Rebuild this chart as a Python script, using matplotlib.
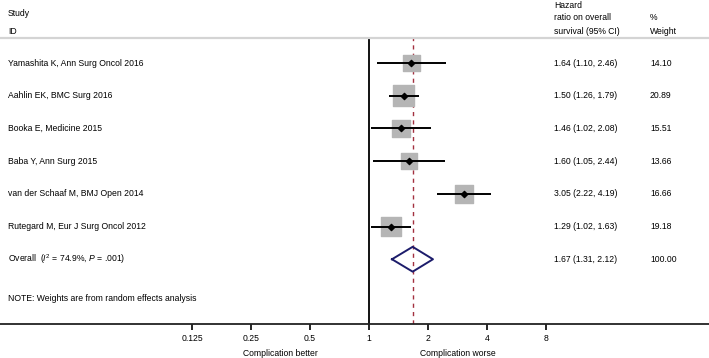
import matplotlib.pyplot as plt
from matplotlib import transforms

plt.rcParams['font.family'] = ['Liberation Sans', 'DejaVu Sans']
plt.rcParams['mathtext.fontset'] = 'custom'
plt.rcParams['mathtext.rm'] = 'Liberation Sans'
plt.rcParams['mathtext.it'] = 'Liberation Sans:italic'

# --- dados do forest plot ---
studies = [
    "Yamashita K, Ann Surg Oncol 2016",
    "Aahlin EK, BMC Surg 2016",
    "Booka E, Medicine 2015",
    "Baba Y, Ann Surg 2015",
    "van der Schaaf M, BMJ Open 2014",
    "Rutegard M, Eur J Surg Oncol 2012",
]
hr = [1.64, 1.50, 1.46, 1.60, 3.05, 1.29]
ci_low = [1.10, 1.26, 1.02, 1.05, 2.22, 1.02]
ci_high = [2.46, 1.79, 2.08, 2.44, 4.19, 1.63]
weights = [14.10, 20.89, 15.51, 13.66, 16.66, 19.18]

overall_hr = 1.67
overall_low = 1.31
overall_high = 2.12
overall_weight = 100.00
overall_label = r"Overall  ($\mathit{I}^2$ = 74.9%, $\mathit{P}$ = .001)"

xticks = [0.125, 0.25, 0.5, 1, 2, 4, 8]
xtick_labels = ["0.125", "0.25", "0.5", "1", "2", "4", "8"]

FS = 6.2
W, H = 709, 358

fig = plt.figure(figsize=(W / 100, H / 100), dpi=100)
ax = fig.add_axes([0, 34 / H, 1, 286 / H])
ax.set_xscale('log', base=2)
ax.set_xlim(2 ** (-369 / 59), 2 ** ((W - 369) / 59))
ax.set_ylim(7.98, -0.765)

for s in ['left', 'right']:
    ax.spines[s].set_visible(False)
ax.spines['top'].set_color('#d4d4d4')
ax.spines['top'].set_linewidth(1.6)
ax.spines['bottom'].set_linewidth(1.3)
ax.spines['bottom'].set_color('#222222')

ax.set_yticks([])
ax.set_xticks(xticks)
ax.set_xticklabels(xtick_labels, fontsize=FS)
ax.xaxis.set_minor_locator(plt.NullLocator())
ax.tick_params(axis='x', direction='out', length=4, width=1.2, pad=3)

ax.axvline(1, color='black', lw=1.3)
ax.axvline(overall_hr, color='#a3303f', lw=1.0, ls=(0, (3, 3)))

rows = list(range(len(studies)))
sizes = [(4.5 * w ** 0.5 * 0.72) ** 2 for w in weights]
ax.scatter(hr, rows, s=sizes, marker='s', color='#b5b5b5', zorder=2)
ax.hlines(rows, ci_low, ci_high, color='black', lw=1.4, zorder=3)
ax.scatter(hr, rows, s=10, marker='D', color='black', zorder=4)

orow = len(studies)
h = 0.38
ax.plot([overall_low, overall_hr, overall_high, overall_hr, overall_low],
        [orow, orow - h, orow, orow + h, orow], color='#1c1c6b', lw=1.4, zorder=4)

# texto em coordenadas (fração do eixo x, linha em y)
tr = transforms.blended_transform_factory(ax.transAxes, ax.transData)
x_study, x_hr, x_w = 8 / W, 554 / W, 650 / W

labels = studies + [overall_label]
hr_txt = [f"{m:.2f} ({a:.2f}, {b:.2f})" for m, a, b in zip(hr, ci_low, ci_high)]
hr_txt.append(f"{overall_hr:.2f} ({overall_low:.2f}, {overall_high:.2f})")
w_txt = [f"{w:.2f}" for w in weights] + [f"{overall_weight:.2f}"]

for i, (lab, t, wt) in enumerate(zip(labels, hr_txt, w_txt)):
    ax.text(x_study, i, lab, transform=tr, fontsize=FS, va='center', ha='left')
    ax.text(x_hr, i, t, transform=tr, fontsize=FS, va='center', ha='left')
    ax.text(x_w, i, wt, transform=tr, fontsize=FS, va='center', ha='left')

ax.text(x_study, 7.2, "NOTE: Weights are from random effects analysis",
        transform=tr, fontsize=FS, va='center', ha='left')

# cabeçalho
def fig_text(x, y, s):
    fig.text(x / W, 1 - y / H, s, fontsize=FS, va='center', ha='left')

fig_text(8, 14, "Study")
fig_text(8, 31, "ID")
fig_text(554, 5, "Hazard")
fig_text(554, 17, "ratio on overall")
fig_text(554, 31, "survival (95% CI)")
fig_text(650, 17, "%")
fig_text(650, 31, "Weight")

fig.text(280 / W, 1 - 353 / H, "Complication better", fontsize=FS, va='center', ha='center')
fig.text(458 / W, 1 - 353 / H, "Complication worse", fontsize=FS, va='center', ha='center')

fig.savefig("out.png", dpi=100)
